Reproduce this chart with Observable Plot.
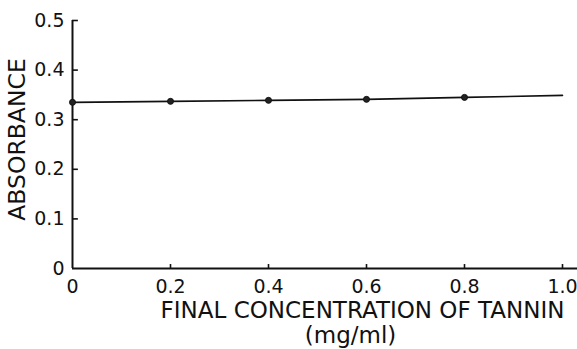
<!DOCTYPE html>
<html>
<head>
<meta charset="utf-8">
<script src="https://cdn.jsdelivr.net/npm/d3@7"></script>
<script src="https://cdn.jsdelivr.net/npm/@observablehq/plot@0.6"></script>
<style>
  html, body { margin: 0; padding: 0; background: #fff; }
  svg { display: block; }
</style>
</head>
<body>
<div id="chart"></div>
<script>
// Data
const concentration = [0, 0.2, 0.4, 0.6, 0.8, 1.0];
const absorbance    = [0.335, 0.337, 0.339, 0.341, 0.345, 0.349];
const markerCount = 5; // measured points shown as dots (0 .. 0.8)

const xTicks = [0, 0.2, 0.4, 0.6, 0.8, 1.0];
const xTickLabels = ["0", "0.2", "0.4", "0.6", "0.8", "1.0"];
const yTicks = [0, 0.1, 0.2, 0.3, 0.4, 0.5];
const yTickLabels = ["0", "0.1", "0.2", "0.3", "0.4", "0.5"];

const xTitle = "FINAL CONCENTRATION OF TANNIN";
const xUnit = "(mg/ml)";
const yTitle = "ABSORBANCE";

const data = concentration.map((c, i) => ({c, a: absorbance[i]}));
const dots = data.slice(0, markerCount);

const font = "'DejaVu Sans', sans-serif";

const chart = Plot.plot({
  width: 577,
  height: 349,
  marginLeft: 72,
  marginRight: 15,
  marginTop: 20,
  marginBottom: 81,
  style: {fontFamily: font, color: "#111", background: "#fff", overflow: "visible"},
  x: {domain: [0, 1.0]},
  y: {domain: [0, 0.5]},
  marks: [
    // axes lines
    Plot.ruleY([0], {x1: 0, x2: 1.032, stroke: "#111", strokeWidth: 2, clip: false}),
    Plot.ruleX([0], {y1: 0, y2: 0.5, stroke: "#111", strokeWidth: 2}),
    // inward ticks
    Plot.ruleY(yTicks.slice(1), {x1: 0, x2: 0.012, stroke: "#111", strokeWidth: 1.6}),
    Plot.ruleX(xTicks.slice(1), {y1: 0, y2: 0.008, stroke: "#111", strokeWidth: 1.6}),
    // tick labels
    Plot.axisX({ticks: xTicks, tickFormat: (d) => xTickLabels[xTicks.indexOf(d)], tickSize: 0, tickPadding: 11, fontSize: 19, label: null}),
    Plot.axisY({ticks: yTicks, tickFormat: (d) => yTickLabels[yTicks.indexOf(d)], tickSize: 0, tickPadding: 8, fontSize: 19, label: null}),
    // data
    Plot.line(data, {x: "c", y: "a", stroke: "#111", strokeWidth: 1.6}),
    Plot.dot(dots, {x: "c", y: "a", r: 3, fill: "#222", stroke: "#111", strokeWidth: 1}),
    // titles
    Plot.text([xTitle], {frameAnchor: "bottom", dx: 45, dy: 49, fontSize: 23, textAnchor: "middle", lineAnchor: "bottom"}),
    Plot.text([xUnit], {frameAnchor: "bottom", dx: 33, dy: 74, fontSize: 23, textAnchor: "middle", lineAnchor: "bottom"}),
    Plot.text([yTitle], {frameAnchor: "left", dx: -55, dy: -5, rotate: -90, fontSize: 23.5, textAnchor: "middle", lineAnchor: "middle"})
  ]
});
document.getElementById("chart").appendChild(chart);
</script>
</body>
</html>
